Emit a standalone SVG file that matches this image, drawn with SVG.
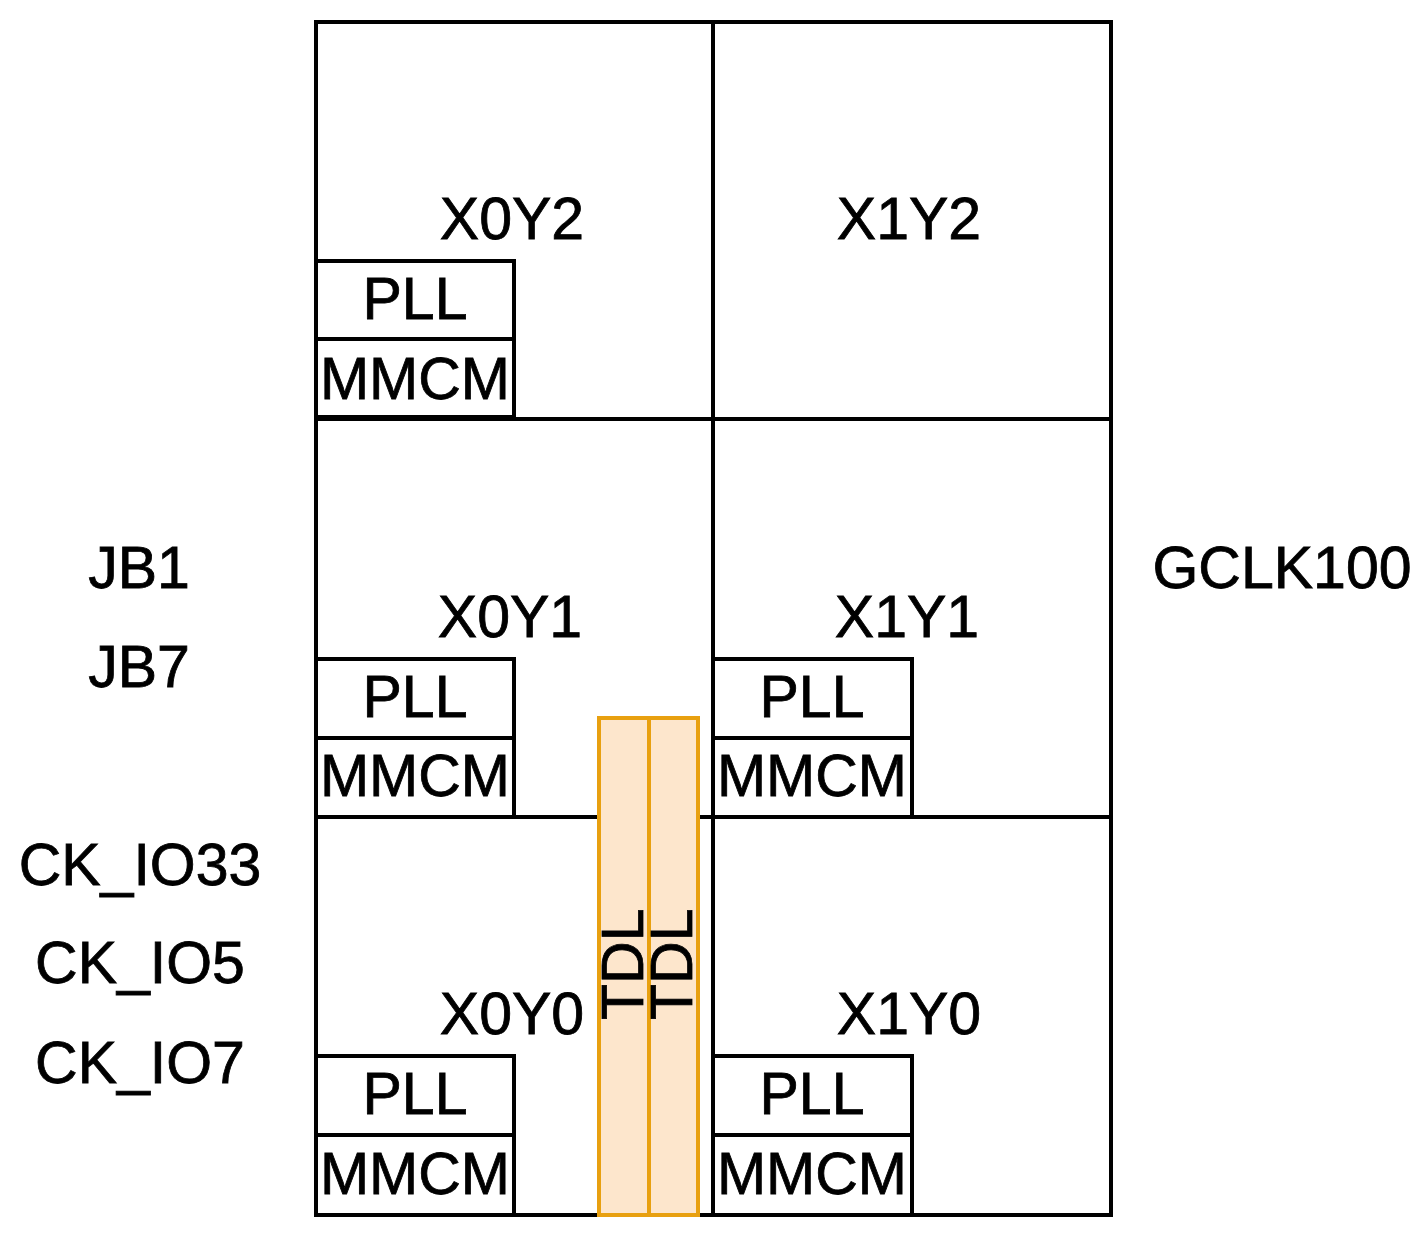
<svg xmlns="http://www.w3.org/2000/svg" width="1427" height="1244" viewBox="0 0 1427 1244">
<style>
.l{fill:none;stroke:#000;stroke-width:4;stroke-linecap:square}
.b{fill:#fff;stroke:#000;stroke-width:4}
.t{font-family:"Liberation Sans",Arial,sans-serif;font-size:59px;fill:#000;stroke:#000;stroke-width:0.8;text-anchor:middle}
.tdl{fill:#FDE6CC;stroke:#E8A010;stroke-width:4}
</style>
<rect width="1427" height="1244" fill="#fff"/>
<g id="grid">
<rect class="l" x="316" y="22" width="795" height="1193"/>
<line class="l" x1="713" y1="22" x2="713" y2="1215"/>
<line class="l" x1="316" y1="419" x2="1111" y2="419"/>
<line class="l" x1="316" y1="817" x2="1111" y2="817"/>
</g>
<g id="labels">
<text class="t" x="512" y="239">X0Y2</text>
<text class="t" x="909" y="239">X1Y2</text>
<text class="t" x="510" y="637">X0Y1</text>
<text class="t" x="907" y="637">X1Y1</text>
<text class="t" x="512" y="1034">X0Y0</text>
<text class="t" x="909" y="1034">X1Y0</text>
<text class="t" x="139" y="588">JB1</text>
<text class="t" x="139" y="687">JB7</text>
<text class="t" x="140" y="885">CK_IO33</text>
<text class="t" x="140" y="983">CK_IO5</text>
<text class="t" x="140" y="1083">CK_IO7</text>
<text class="t" x="1282" y="588">GCLK100</text>
</g>
<g id="pll-x0y2"><rect class="b" x="316" y="261" width="198" height="78"/><rect class="b" x="316" y="339" width="198" height="78"/><text class="t" x="415" y="319">PLL</text><text class="t" x="415" y="399">MMCM</text></g>
<g id="pll-x0y1"><rect class="b" x="316" y="659" width="198" height="79"/><rect class="b" x="316" y="738" width="198" height="79"/><text class="t" x="415" y="717">PLL</text><text class="t" x="415" y="796">MMCM</text></g>
<g id="pll-x1y1"><rect class="b" x="713" y="659" width="199" height="79"/><rect class="b" x="713" y="738" width="199" height="79"/><text class="t" x="812" y="717">PLL</text><text class="t" x="812" y="796">MMCM</text></g>
<g id="pll-x0y0"><rect class="b" x="316" y="1056" width="198" height="79"/><rect class="b" x="316" y="1135" width="198" height="80"/><text class="t" x="415" y="1114">PLL</text><text class="t" x="415" y="1194">MMCM</text></g>
<g id="pll-x1y0"><rect class="b" x="713" y="1056" width="199" height="79"/><rect class="b" x="713" y="1135" width="199" height="80"/><text class="t" x="812" y="1114">PLL</text><text class="t" x="812" y="1194">MMCM</text></g>
<g id="tdl1"><rect class="tdl" x="599" y="718" width="50" height="497"/><text class="t" style="text-anchor:start" transform="translate(643,1020) rotate(-90)">TDL</text></g>
<g id="tdl2"><rect class="tdl" x="649" y="718" width="49" height="497"/><text class="t" style="text-anchor:start" transform="translate(692,1020) rotate(-90)">TDL</text></g>
</svg>
